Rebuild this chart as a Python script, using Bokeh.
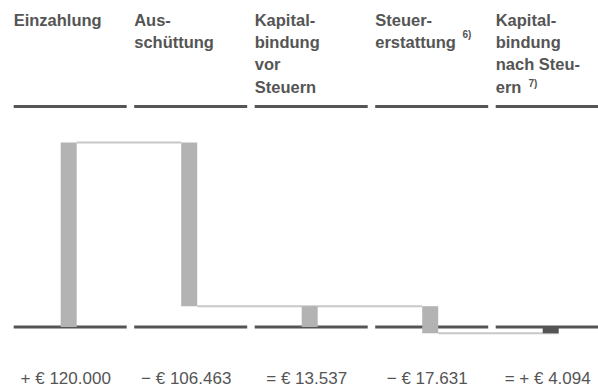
from bokeh.plotting import figure
from bokeh.models import Range1d, Label, ColumnDataSource
from bokeh.embed import file_html
from bokeh.resources import INLINE

# ---- data ----
categories = ["Einzahlung", "Ausschüttung", "Kapitalbindung vor Steuern",
              "Steuererstattung", "Kapitalbindung nach Steuern"]
header_lines = [
    ["Einzahlung"],
    ["Aus-", "schüttung"],
    ["Kapital-", "bindung", "vor", "Steuern"],
    ["Steuer-", "erstattung"],
    ["Kapital-", "bindung", "nach Steu-", "ern"],
]
footnotes = ["", "", "", "6)", "7)"]
values = [120000, -106463, 13537, -17631, -4094]
kinds = ["delta", "delta", "total", "delta", "total"]
value_labels = ["+ € 120.000", "− € 106.463", "= € 13.537", "− € 17.631", "= + € 4.094"]

# ---- layout ----
W, H = 598, 387
PX_PER_COL = 120.5
FIRST_CENTER = 68.2
BASE_PX = 326.5          # baseline position from top
TOP_PX = 142.0           # pixel of 120000
k = (BASE_PX - TOP_PX) / 120000.0   # px per unit
y_start = -(H - BASE_PX) / k
y_end = y_start + H / k
TEXT_SHIFT = 5.5         # renderer places text slightly lower than requested

def px(v):
    return v / PX_PER_COL

def y_from_top(p_top):
    return (BASE_PX - p_top) / k

def scr(p_top):
    return H - (p_top - TEXT_SHIFT)

p = figure(width=W, height=H, output_backend="svg", toolbar_location=None,
           x_range=Range1d(-FIRST_CENTER / PX_PER_COL, (W - FIRST_CENTER) / PX_PER_COL),
           y_range=Range1d(y_start, y_end),
           x_axis_type=None, y_axis_type=None, min_border=0,
           outline_line_color=None, background_fill_color="white",
           border_fill_color="white")
p.grid.visible = False

n = len(values)
idx = list(range(n))

# waterfall geometry
bottoms, tops, colors = [], [], []
level = 0
for v, kd in zip(values, kinds):
    if kd == "delta":
        a, b = level, level + v
        level = b
        colors.append("#b3b3b3")
    else:
        a, b = 0, v
        colors.append("#555555" if v < 0 else "#b3b3b3")
    bottoms.append(min(a, b))
    tops.append(max(a, b))

# column separators (baseline and header rules)
seg_x0 = [i - px(55) for i in idx]
seg_x1 = [i + px(58) for i in idx]
seg_x1[-1] = (W - FIRST_CENTER) / PX_PER_COL
p.segment(x0=seg_x0, x1=seg_x1, y0=[0] * n, y1=[0] * n,
          line_color="#555555", line_width=3)
hy = y_from_top(106)
p.segment(x0=seg_x0, x1=seg_x1, y0=[hy] * n, y1=[hy] * n,
          line_color="#555555", line_width=3)

# connectors
bw = px(16)
cx0, cx1, cy = [], [], []
level = 0
delta_idx = [i for i in idx if kinds[i] == "delta"]
for j, i in enumerate(delta_idx):
    level += values[i]
    if j + 1 < len(delta_idx):
        nxt = delta_idx[j + 1]
        cx0.append(i + bw / 2); cx1.append(nxt - bw / 2); cy.append(level)
    else:
        cx0.append(i + bw / 2); cx1.append(n - 1 + bw / 2); cy.append(level)
p.segment(x0=cx0, x1=cx1, y0=cy, y1=cy, line_color="#c8c8c8", line_width=2)

src = ColumnDataSource(dict(x=idx, top=tops, bottom=bottoms, color=colors))
p.vbar(x="x", top="top", bottom="bottom", width=bw, fill_color="color",
       line_color=None, source=src)

FONT = "Liberation Sans"
TXT = "#555555"
LINE_H = 22.4
FIRST_BASE = 24.5
for i, lines in enumerate(header_lines):
    for li, t in enumerate(lines):
        p.add_layout(Label(x=i - px(55), y=scr(FIRST_BASE + li * LINE_H),
                           x_units="data", y_units="screen", text=t,
                           text_font=FONT, text_font_size="16.5px",
                           text_font_style="bold", text_color=TXT,
                           text_baseline="alphabetic", text_align="left"))

# footnote superscripts
sup_pos = {3: (462, 39.5), 4: (528, 88.0)}
for i, (sx, sy) in sup_pos.items():
    p.add_layout(Label(x=px(sx - FIRST_CENTER), y=scr(sy), x_units="data",
                       y_units="screen", text=footnotes[i], text_font=FONT,
                       text_font_size="10px", text_font_style="bold",
                       text_color=TXT, text_baseline="alphabetic"))

for i, t in enumerate(value_labels):
    p.add_layout(Label(x=i - px(3), y=scr(383.0), x_units="data", y_units="screen",
                       text=t, text_font=FONT, text_font_size="17px",
                       text_color=TXT, text_align="center",
                       text_baseline="alphabetic"))

open("out.html", "w").write(file_html(p, INLINE))
